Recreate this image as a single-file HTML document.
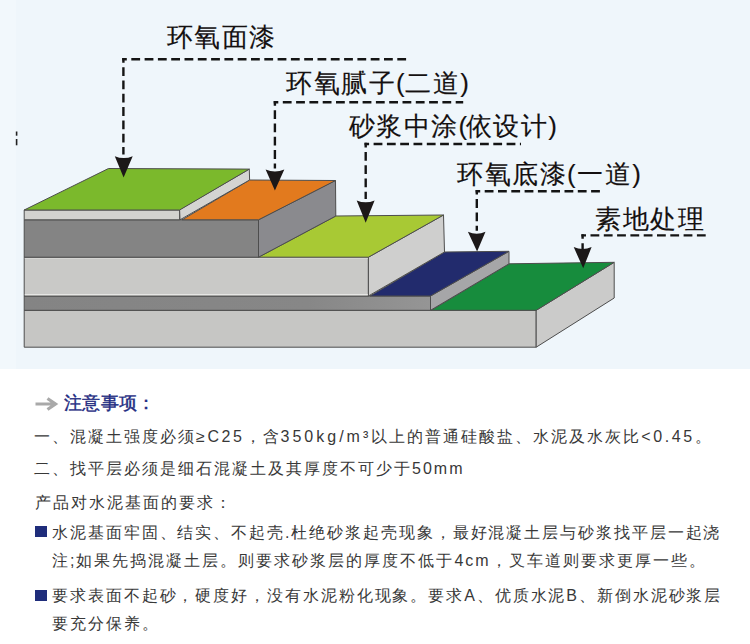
<!DOCTYPE html>
<html><head><meta charset="utf-8">
<style>
html,body{margin:0;padding:0;}
body{width:750px;height:644px;overflow:hidden;background:#fff;position:relative;font-family:"Liberation Sans",sans-serif;}
#top{position:absolute;left:0;top:0;width:750px;height:369px;background:#eff6fb;}
svg{position:absolute;left:0;top:0;}
.lb{position:absolute;font-size:26px;color:#141010;-webkit-text-stroke:0.15px #141010;white-space:nowrap;line-height:30px;letter-spacing:1.5px;}
.t{position:absolute;font-size:16px;color:#383838;white-space:nowrap;line-height:20px;letter-spacing:2px;}
.hd{position:absolute;font-size:18px;color:#1f2c82;-webkit-text-stroke:0.4px #1f2c82;white-space:nowrap;line-height:20px;letter-spacing:0.3px;}
.l{letter-spacing:2.6px;}
.sq{position:absolute;width:12px;height:11px;background:#1f2d7b;}
</style></head>
<body>
<div id="top"></div><div style="position:absolute;left:0;top:0;width:16px;height:369px;background:#f2f8fc"></div>
<svg width="750" height="369" viewBox="0 0 750 369">
<defs><linearGradient id="gs" gradientUnits="userSpaceOnUse" x1="24" y1="0" x2="430" y2="0"><stop offset="0" stop-color="#848484"/><stop offset="0.7" stop-color="#878787"/><stop offset="1" stop-color="#959595"/></linearGradient></defs>
<g stroke="#4d4d4d" stroke-width="1" stroke-linejoin="round">
<!-- bottom slab -->
<polygon points="24.2,310.3 536.2,310.3 536.2,347.2 24.2,347.2" fill="#c6c6c4"/>
<polygon points="536.2,310.3 614.2,262.3 614.2,298 536.2,347.2" fill="#cbcbca"/>
<polygon points="431,310.3 509,263.8 614.2,262.3 536.2,310.3" fill="#178c3d"/>
<!-- dark strip -->
<polygon points="24.2,296 430.5,296 430.5,310.3 24.2,310.3" fill="url(#gs)"/>
<polygon points="430.5,296 509,251.3 509,263.8 430.5,310.3" fill="#a6a6a8"/>
<polygon points="370,296 444.5,252 509,251.3 430.5,296" fill="#222b6d"/>
<!-- light slab 2 -->
<polygon points="24.2,257.2 368.4,257.2 368.4,296 24.2,296" fill="#c9c9c7"/>
<polygon points="368.4,257.2 443.5,215 444.5,252 368.4,296" fill="#cfcfce"/>
<polygon points="258.5,257.2 335.8,216 443.5,215 368.4,257.2" fill="#a8c934"/>
<path d="M24.8,294.7 H367.8" stroke="#e6e6e4" stroke-width="1.2"/><path d="M24.8,258.4 H367.8" stroke="#d8d8d6" stroke-width="1"/>
<!-- dark slab -->
<polygon points="24.2,219.8 258.5,219.8 258.5,257.2 24.2,257.2" fill="#848484"/>
<polygon points="258.5,219.8 335.5,180.5 335.8,216 258.5,257.2" fill="#8a8a8e"/>
<polygon points="182,219.8 249.6,180 335.5,180.5 258.5,219.8" fill="#e27a1e"/>
<!-- light strip -->
<polygon points="24.2,210 179.6,210 179.6,219.8 24.2,219.8" fill="#d2d2cf"/>
<polygon points="179.6,209.6 249.3,169.1 249.6,180 180,219.8" fill="#d4d4d2"/>
<polygon points="24.2,210 108.5,168.5 249.3,169.1 179.6,210" fill="#7bb92c"/>
</g>
<g fill="none" stroke="#141414" stroke-width="2.4" stroke-dasharray="8.8 4.5" stroke-dashoffset="4.2">
<path d="M122.2,59.3 H406.8"/><path d="M123.4,58.1 V154.5"/>
<path d="M273.7,102.3 H463.2"/><path d="M274.9,101.1 V168.5"/>
<path d="M364.5,144.0 H521"/><path d="M365.7,142.8 V199"/>
<path d="M475.6,191.2 H600.3"/><path d="M476.8,190.0 V230.7"/>
<path d="M581.4,235.4 H707.3"/><path d="M582.6,234.2 V250"/>
</g>
<rect x="15.8" y="131.5" width="1.6" height="4.2" fill="#222"/><rect x="15.8" y="139" width="1.6" height="6.3" fill="#222"/>
<g fill="#1c1818">
<path d="M114.8,156.2 Q123.8,160.0 132.7,156.2 L123.6,177.6 Z"/>
<path d="M265.6,169.5 Q275.0,173.3 284.3,169.5 L274.9,190.5 Z"/>
<path d="M356.7,200.4 Q365.6,204.2 374.6,200.4 L365.7,222.7 Z"/>
<path d="M467.9,231.8 Q476.7,235.6 485.5,231.8 L477.1,251.6 Z"/>
<path d="M573.7,247.1 Q582.7,250.9 591.6,247.1 L583.2,268.3 Z"/>
</g>
</svg>
<div class="lb" style="left:166.5px;top:21.5px">环氧面漆</div>
<div class="lb" style="left:286px;top:68.3px">环氧腻子<span style="letter-spacing:0.5px">(</span>二道)</div>
<div class="lb" style="left:348.5px;top:110.5px">砂浆中涂<span style="letter-spacing:-1.5px">(</span>依设计)</div>
<div class="lb" style="left:457px;top:158.5px">环氧底漆(一道)</div>
<div class="lb" style="left:595px;top:204px">素地处理</div>

<svg width="30" height="20" style="left:30px;top:394px" viewBox="30 394 30 20"><path d="M35.5,404 H55 M47.5,398.5 L55.5,404 L47.5,409.5" fill="none" stroke="#a9a9a9" stroke-width="3.2"/></svg>
<div class="hd" style="left:64px;top:392.8px">注意事项：</div>
<div class="t" style="left:34px;top:427px">一、混凝土强度必须<span class="l">≥C25</span>，含<span class="l" style="letter-spacing:3px">350kg/m³</span>以上的普通硅酸盐、水泥及水灰比<span class="l">&lt;0.45</span>。</div>
<div class="t" style="left:34px;top:459px">二、找平层必须是细石混凝土及其厚度不可少于50mm</div>
<div class="t" style="left:35px;top:492.5px">产品对水泥基面的要求：</div>
<div class="sq" style="left:35px;top:526px"></div>
<div class="t" style="left:52px;top:523px;letter-spacing:1.92px">水泥基面牢固、结实、不起壳.杜绝砂浆起壳现象，最好混凝土层与砂浆找平层一起浇</div>
<div class="t" style="left:52px;top:551px">注;如果先捣混凝土层。则要求砂浆层的厚度不低于4cm，叉车道则要求更厚一些。</div>
<div class="sq" style="left:35px;top:589.5px"></div>
<div class="t" style="left:52px;top:586px;letter-spacing:1.92px">要求表面不起砂，硬度好，没有水泥粉化现象。要求A、优质水泥B、新倒水泥砂浆层</div>
<div class="t" style="left:52px;top:613.5px">要充分保养。</div>
</body></html>
